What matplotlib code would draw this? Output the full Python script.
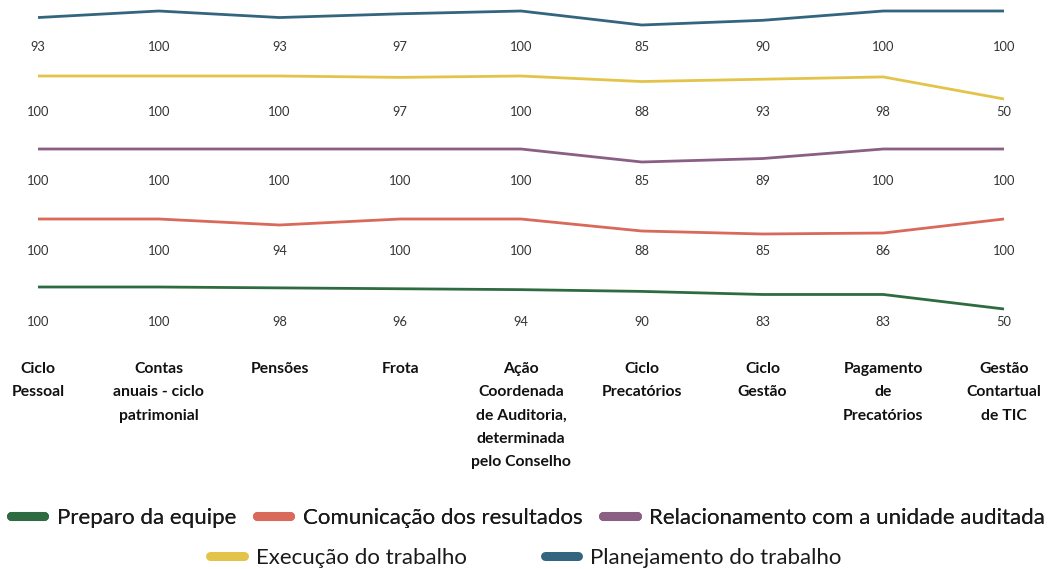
import matplotlib
matplotlib.use("Agg")
import matplotlib.pyplot as plt
from matplotlib.lines import Line2D

# ---- data ----
categories = ["Ciclo\nPessoal", "Contas\nanuais - ciclo\npatrimonial", "Pensões", "Frota",
              "Ação\nCoordenada\nde Auditoria,\ndeterminada\npelo Conselho",
              "Ciclo\nPrecatórios", "Ciclo\nGestão", "Pagamento\nde\nPrecatórios",
              "Gestão\nContartual\nde TIC"]
planejamento = [93, 100, 93, 97, 100, 85, 90, 100, 100]
execucao = [100, 100, 100, 97, 100, 88, 93, 98, 50]
relacionamento = [100, 100, 100, 100, 100, 85, 89, 100, 100]
comunicacao = [100, 100, 94, 100, 100, 88, 85, 86, 100]
preparo = [100, 100, 98, 96, 94, 90, 83, 83, 50]

series_names = ["Planejamento do trabalho", "Execução do trabalho",
                "Relacionamento com a unidade auditada", "Comunicação dos resultados",
                "Preparo da equipe"]
series_values = [planejamento, execucao, relacionamento, comunicacao, preparo]
colors = ["#34657f", "#e3c44a", "#8b5e83", "#d9695a", "#2f6b40"]

W, H = 1055, 569
fig = plt.figure(figsize=(W / 100, H / 100), dpi=100)

x_left, x_right = 38, 1004
# band layout (pixels from top): top of line band, bottom of line band, label y
bands = [(11, 25, 47), (76, 99, 112), (149, 162, 181), (219, 234, 251), (287, 309, 322)]

n = len(categories)
xs = list(range(n))
def xfig(i):
    return (x_left + i * (x_right - x_left) / (n - 1)) / W

for vals, col, (ytop, ybot, ylab) in zip(series_values, colors, bands):
    ax = fig.add_axes([x_left / W, 1 - ybot / H, (x_right - x_left) / W, (ybot - ytop) / H])
    ax.plot(xs, vals, color=col, lw=2.0, solid_capstyle="butt", solid_joinstyle="round", clip_on=False)
    ax.set_xlim(0, n - 1)
    ax.set_ylim(min(vals), max(vals))
    ax.axis("off")
    for xi, v in zip(xs, vals):
        fig.text(xfig(xi), 1 - ylab / H, str(v), ha="center", va="center",
                 fontsize=9.3, color="#333333", family="Lato")

# category labels
for xi, c in enumerate(categories):
    fig.text(xfig(xi), 1 - 362 / H, c, ha="center", va="top", fontsize=11.3,
             fontweight="bold", color="#111111", family="Lato", linespacing=1.85)

# legends (two rows)
def handle(c):
    return Line2D([0], [0], color=c, lw=6.5, solid_capstyle="round")

lprop = {"family": "Lato", "size": 16}
order1 = [4, 3, 2]
order2 = [1, 0]
leg1 = fig.legend([handle(colors[i]) for i in order1], [series_names[i] for i in order1],
                  loc="center", bbox_to_anchor=(528 / W, 1 - 518 / H), ncol=3, frameon=False,
                  prop=lprop, handlelength=1.5, handletextpad=0.55,
                  columnspacing=0.95, borderaxespad=0)
leg2 = fig.legend([handle(colors[i]) for i in order2], [series_names[i] for i in order2],
                  loc="center", bbox_to_anchor=(526 / W, 1 - 558 / H), ncol=2, frameon=False,
                  prop=lprop, handlelength=1.5, handletextpad=0.55,
                  columnspacing=3.5, borderaxespad=0)
fig.add_artist(leg1)
for leg in (leg1, leg2):
    for t in leg.get_texts():
        t.set_color("#1a1a1a")

fig.savefig("out.png", dpi=100)
